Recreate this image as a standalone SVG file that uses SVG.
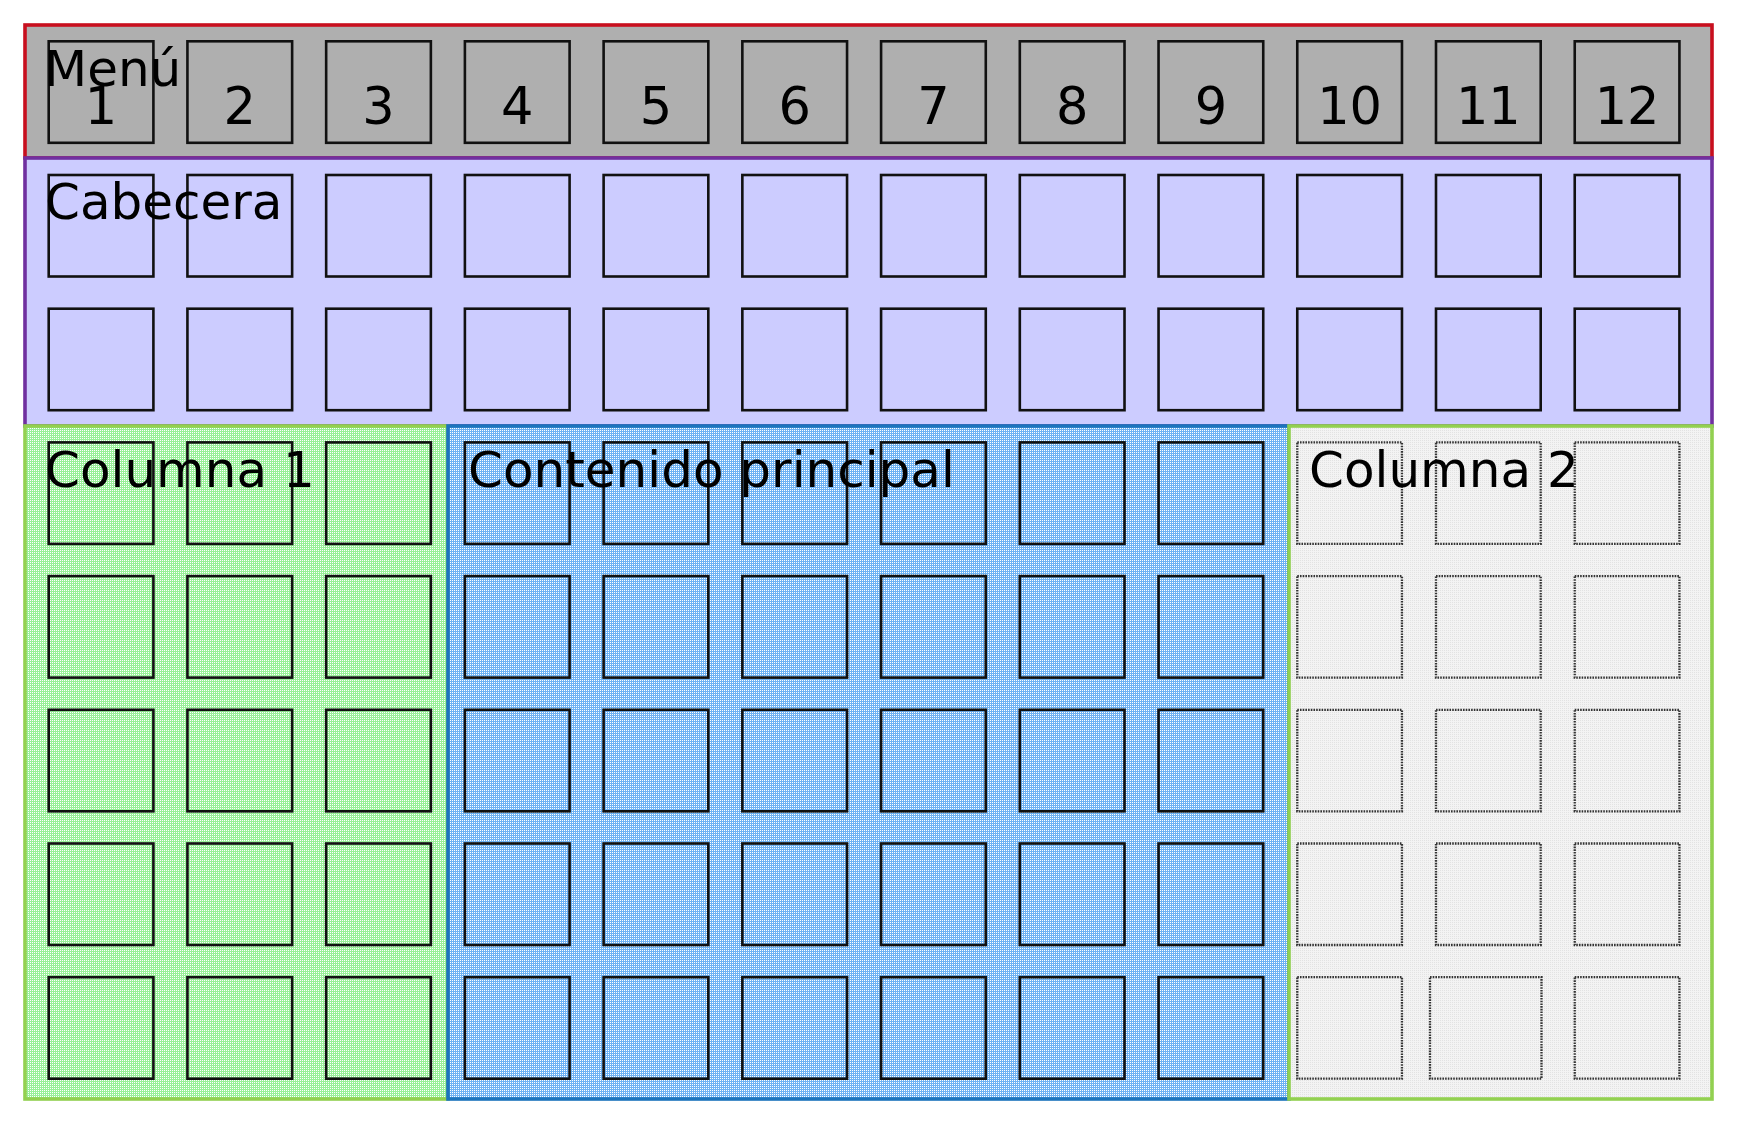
<svg xmlns="http://www.w3.org/2000/svg" width="1740" height="1122" viewBox="0 0 1740 1122">
<style>
text{font-family:"DejaVu Sans","Verdana","Liberation Sans",sans-serif;font-size:50px;fill:#000}
.num{text-anchor:middle;font-size:51px}
.c{fill:none;stroke:#111;stroke-width:2.6}
.d{fill:none;stroke:#333;stroke-width:2.3;stroke-dasharray:1.6 1.1}
.box{stroke-width:3.6}
</style>
<defs>
<pattern id="pg" width="2" height="2" patternUnits="userSpaceOnUse"><rect width="2" height="2" fill="#98f098"/><rect width="1" height="1" fill="#ffffff"/></pattern>
<pattern id="pb" width="2" height="2" patternUnits="userSpaceOnUse"><rect width="2" height="2" fill="#6eb2f3"/><rect width="1" height="1" fill="#ffffff"/></pattern>
<pattern id="pw" width="2" height="2" patternUnits="userSpaceOnUse"><rect width="2" height="2" fill="#f3f3f3"/><rect width="1" height="1" fill="#e2e2e2"/></pattern>
</defs>
<rect width="1740" height="1122" fill="#ffffff"/>
<g id="menu">
<rect class="box" x="25" y="25" width="1687" height="133" fill="#afafaf" stroke="#c80f1e"/>
</g>
<g id="cabecera">
<rect class="box" x="25" y="158" width="1687" height="268" fill="#ccccff" stroke="#7030a0"/>
</g>
<g id="columna1">
<rect class="box" x="25" y="426" width="423" height="673" fill="url(#pg)" stroke="#92d050"/>
</g>
<g id="contenido">
<rect class="box" x="448" y="426" width="841" height="673" fill="url(#pb)" stroke="#1c74bc"/>
</g>
<g id="columna2">
<rect class="box" x="1289" y="426" width="423" height="673" fill="url(#pw)" stroke="#92d050"/>
</g>
<g id="celdas-menu">
<rect class="c" x="48.7" y="41.3" width="104.7" height="101.5"/>
<rect class="c" x="187.43" y="41.3" width="104.7" height="101.5"/>
<rect class="c" x="326.16" y="41.3" width="104.7" height="101.5"/>
<rect class="c" x="464.89" y="41.3" width="104.7" height="101.5"/>
<rect class="c" x="603.62" y="41.3" width="104.7" height="101.5"/>
<rect class="c" x="742.35" y="41.3" width="104.7" height="101.5"/>
<rect class="c" x="881.08" y="41.3" width="104.7" height="101.5"/>
<rect class="c" x="1019.81" y="41.3" width="104.7" height="101.5"/>
<rect class="c" x="1158.54" y="41.3" width="104.7" height="101.5"/>
<rect class="c" x="1297.27" y="41.3" width="104.7" height="101.5"/>
<rect class="c" x="1436" y="41.3" width="104.7" height="101.5"/>
<rect class="c" x="1574.73" y="41.3" width="104.7" height="101.5"/>
<text class="num" x="101.05" y="124">1</text>
<text class="num" x="239.78" y="124">2</text>
<text class="num" x="378.51" y="124">3</text>
<text class="num" x="517.24" y="124">4</text>
<text class="num" x="655.97" y="124">5</text>
<text class="num" x="794.7" y="124">6</text>
<text class="num" x="933.43" y="124">7</text>
<text class="num" x="1072.16" y="124">8</text>
<text class="num" x="1210.89" y="124">9</text>
<text class="num" x="1349.62" y="124">10</text>
<text class="num" x="1488.35" y="124">11</text>
<text class="num" x="1627.08" y="124">12</text>
</g>
<g id="celdas-cabecera">
<rect class="c" x="48.7" y="175" width="104.7" height="101.5"/>
<rect class="c" x="187.43" y="175" width="104.7" height="101.5"/>
<rect class="c" x="326.16" y="175" width="104.7" height="101.5"/>
<rect class="c" x="464.89" y="175" width="104.7" height="101.5"/>
<rect class="c" x="603.62" y="175" width="104.7" height="101.5"/>
<rect class="c" x="742.35" y="175" width="104.7" height="101.5"/>
<rect class="c" x="881.08" y="175" width="104.7" height="101.5"/>
<rect class="c" x="1019.81" y="175" width="104.7" height="101.5"/>
<rect class="c" x="1158.54" y="175" width="104.7" height="101.5"/>
<rect class="c" x="1297.27" y="175" width="104.7" height="101.5"/>
<rect class="c" x="1436" y="175" width="104.7" height="101.5"/>
<rect class="c" x="1574.73" y="175" width="104.7" height="101.5"/>
<rect class="c" x="48.7" y="308.7" width="104.7" height="101.5"/>
<rect class="c" x="187.43" y="308.7" width="104.7" height="101.5"/>
<rect class="c" x="326.16" y="308.7" width="104.7" height="101.5"/>
<rect class="c" x="464.89" y="308.7" width="104.7" height="101.5"/>
<rect class="c" x="603.62" y="308.7" width="104.7" height="101.5"/>
<rect class="c" x="742.35" y="308.7" width="104.7" height="101.5"/>
<rect class="c" x="881.08" y="308.7" width="104.7" height="101.5"/>
<rect class="c" x="1019.81" y="308.7" width="104.7" height="101.5"/>
<rect class="c" x="1158.54" y="308.7" width="104.7" height="101.5"/>
<rect class="c" x="1297.27" y="308.7" width="104.7" height="101.5"/>
<rect class="c" x="1436" y="308.7" width="104.7" height="101.5"/>
<rect class="c" x="1574.73" y="308.7" width="104.7" height="101.5"/>
</g>
<g id="celdas-columna1">
<rect class="c" x="48.7" y="442.4" width="104.7" height="101.5"/>
<rect class="c" x="187.43" y="442.4" width="104.7" height="101.5"/>
<rect class="c" x="326.16" y="442.4" width="104.7" height="101.5"/>
<rect class="c" x="48.7" y="576.1" width="104.7" height="101.5"/>
<rect class="c" x="187.43" y="576.1" width="104.7" height="101.5"/>
<rect class="c" x="326.16" y="576.1" width="104.7" height="101.5"/>
<rect class="c" x="48.7" y="709.8" width="104.7" height="101.5"/>
<rect class="c" x="187.43" y="709.8" width="104.7" height="101.5"/>
<rect class="c" x="326.16" y="709.8" width="104.7" height="101.5"/>
<rect class="c" x="48.7" y="843.5" width="104.7" height="101.5"/>
<rect class="c" x="187.43" y="843.5" width="104.7" height="101.5"/>
<rect class="c" x="326.16" y="843.5" width="104.7" height="101.5"/>
<rect class="c" x="48.7" y="977.2" width="104.7" height="101.5"/>
<rect class="c" x="187.43" y="977.2" width="104.7" height="101.5"/>
<rect class="c" x="326.16" y="977.2" width="104.7" height="101.5"/>
</g>
<g id="celdas-contenido">
<rect class="c" x="464.89" y="442.4" width="104.7" height="101.5"/>
<rect class="c" x="603.62" y="442.4" width="104.7" height="101.5"/>
<rect class="c" x="742.35" y="442.4" width="104.7" height="101.5"/>
<rect class="c" x="881.08" y="442.4" width="104.7" height="101.5"/>
<rect class="c" x="1019.81" y="442.4" width="104.7" height="101.5"/>
<rect class="c" x="1158.54" y="442.4" width="104.7" height="101.5"/>
<rect class="c" x="464.89" y="576.1" width="104.7" height="101.5"/>
<rect class="c" x="603.62" y="576.1" width="104.7" height="101.5"/>
<rect class="c" x="742.35" y="576.1" width="104.7" height="101.5"/>
<rect class="c" x="881.08" y="576.1" width="104.7" height="101.5"/>
<rect class="c" x="1019.81" y="576.1" width="104.7" height="101.5"/>
<rect class="c" x="1158.54" y="576.1" width="104.7" height="101.5"/>
<rect class="c" x="464.89" y="709.8" width="104.7" height="101.5"/>
<rect class="c" x="603.62" y="709.8" width="104.7" height="101.5"/>
<rect class="c" x="742.35" y="709.8" width="104.7" height="101.5"/>
<rect class="c" x="881.08" y="709.8" width="104.7" height="101.5"/>
<rect class="c" x="1019.81" y="709.8" width="104.7" height="101.5"/>
<rect class="c" x="1158.54" y="709.8" width="104.7" height="101.5"/>
<rect class="c" x="464.89" y="843.5" width="104.7" height="101.5"/>
<rect class="c" x="603.62" y="843.5" width="104.7" height="101.5"/>
<rect class="c" x="742.35" y="843.5" width="104.7" height="101.5"/>
<rect class="c" x="881.08" y="843.5" width="104.7" height="101.5"/>
<rect class="c" x="1019.81" y="843.5" width="104.7" height="101.5"/>
<rect class="c" x="1158.54" y="843.5" width="104.7" height="101.5"/>
<rect class="c" x="464.89" y="977.2" width="104.7" height="101.5"/>
<rect class="c" x="603.62" y="977.2" width="104.7" height="101.5"/>
<rect class="c" x="742.35" y="977.2" width="104.7" height="101.5"/>
<rect class="c" x="881.08" y="977.2" width="104.7" height="101.5"/>
<rect class="c" x="1019.81" y="977.2" width="104.7" height="101.5"/>
<rect class="c" x="1158.54" y="977.2" width="104.7" height="101.5"/>
</g>
<g id="celdas-columna2">
<rect class="d" x="1297.27" y="442.4" width="104.7" height="101.5"/>
<rect class="d" x="1436" y="442.4" width="104.7" height="101.5"/>
<rect class="d" x="1574.73" y="442.4" width="104.7" height="101.5"/>
<rect class="d" x="1297.27" y="576.1" width="104.7" height="101.5"/>
<rect class="d" x="1436" y="576.1" width="104.7" height="101.5"/>
<rect class="d" x="1574.73" y="576.1" width="104.7" height="101.5"/>
<rect class="d" x="1297.27" y="709.8" width="104.7" height="101.5"/>
<rect class="d" x="1436" y="709.8" width="104.7" height="101.5"/>
<rect class="d" x="1574.73" y="709.8" width="104.7" height="101.5"/>
<rect class="d" x="1297.27" y="843.5" width="104.7" height="101.5"/>
<rect class="d" x="1436" y="843.5" width="104.7" height="101.5"/>
<rect class="d" x="1574.73" y="843.5" width="104.7" height="101.5"/>
<rect class="d" x="1297.27" y="977.2" width="104.7" height="101.5"/>
<rect class="d" x="1430" y="977.2" width="111.5" height="101.5"/>
<rect class="d" x="1574.73" y="977.2" width="104.7" height="101.5"/>
</g>
<g id="etiquetas">
<text x="44" y="86">Menú</text>
<text x="45" y="219">Cabecera</text>
<text x="45" y="487">Columna 1</text>
<text x="468" y="487">Contenido principal</text>
<text x="1309" y="487">Columna 2</text>
</g>
</svg>
